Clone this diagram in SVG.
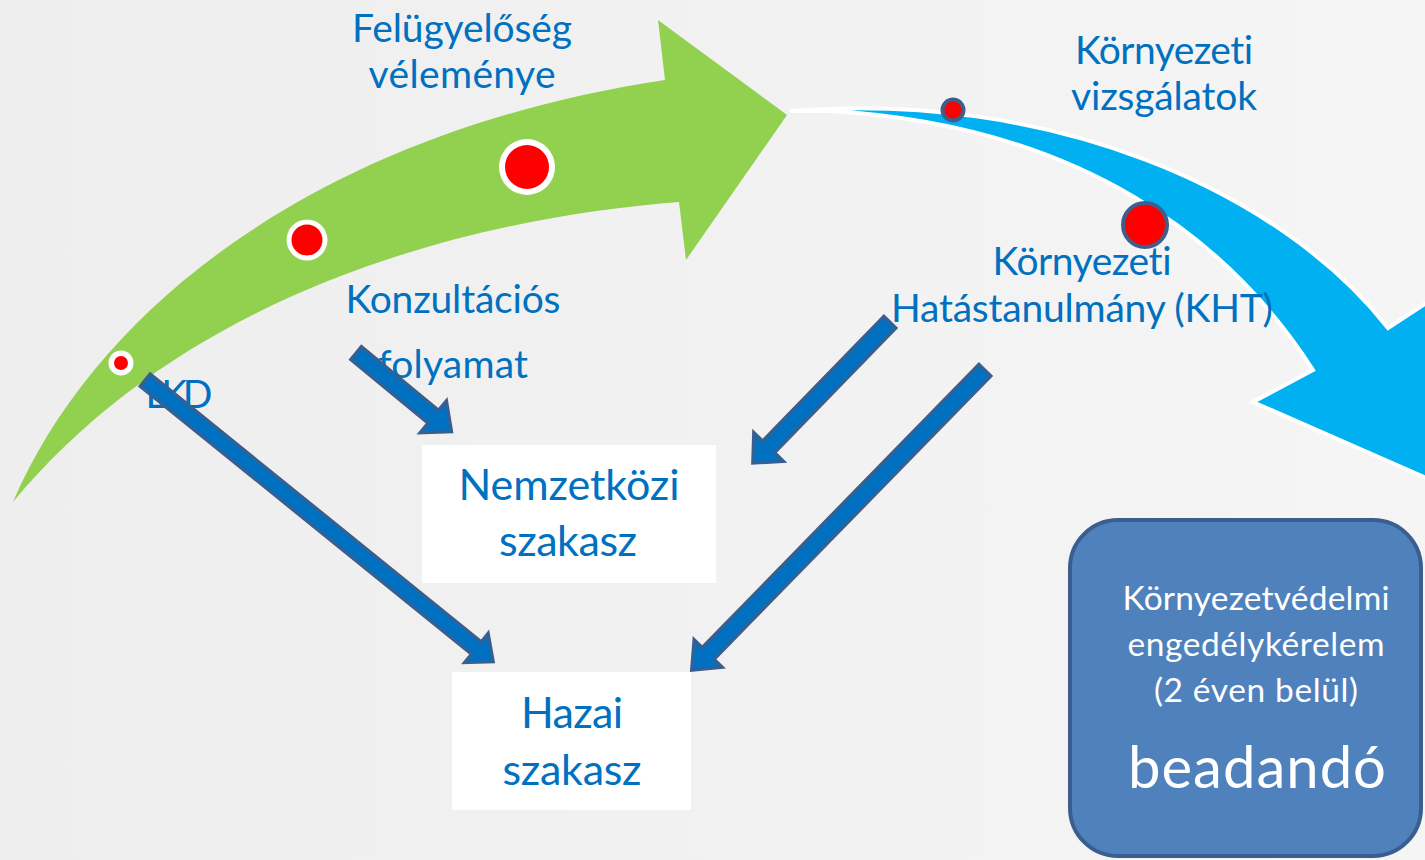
<svg xmlns="http://www.w3.org/2000/svg" width="1425" height="860" viewBox="0 0 1425 860">
  <defs>
    <linearGradient id="bg" x1="0" y1="0" x2="1" y2="0">
      <stop offset="0" stop-color="#EEEEEE"/>
      <stop offset="1" stop-color="#F5F5F5"/>
    </linearGradient>
    <style>
      text { font-variant-ligatures: none; font-feature-settings: "liga" 0; }
      .lbl { font-family: Lato, "Open Sans", "Liberation Sans", sans-serif; fill: #0070C0; text-anchor: middle; }
      .s42 { font-size: 39px; }
      .s46 { font-size: 43px; }
      .wt { font-family: Lato, "Open Sans", "Liberation Sans", sans-serif; fill: #FFFFFF; text-anchor: middle; }
      .blk { fill: #0070C0; stroke: #3A5F8E; stroke-width: 3; stroke-linejoin: miter; }
      .dotw { fill: #FFFFFF; }
      .dotr { fill: #FF0000; }
      .dotb { fill: #FF0000; stroke: #3F5E8C; stroke-width: 4; }
      .box { fill: #FFFFFF; }
    </style>
  </defs>

  <rect x="0" y="0" width="1425" height="860" fill="url(#bg)"/>

  <g id="green-arrow">
    <path d="M13,502 C100,300 330,130 665,80 L658,20 L787,115 L686,260 L679,202 C450,220 180,300 13,502 Z" fill="#92D050"/>
    <circle class="dotw" cx="121" cy="363" r="12.5"/>
    <circle class="dotr" cx="121" cy="363" r="7"/>
    <circle class="dotw" cx="307" cy="240" r="20.5"/>
    <circle class="dotr" cx="307" cy="240" r="15.5"/>
    <circle class="dotw" cx="527" cy="167" r="28"/>
    <circle class="dotr" cx="527" cy="167" r="22"/>
  </g>

  <g id="blue-arrow">
    <path d="M790,111 C1050,90 1280,190 1388,328 L1440,294 L1440,484 L1253,402 L1313,370 C1230,240 1080,125 830,111 Z" fill="#00B0F0" stroke="#FFFFFF" stroke-width="4" stroke-linejoin="miter"/>
    <circle class="dotb" cx="953" cy="110" r="10.5"/>
    <circle class="dotb" cx="1145" cy="225" r="22"/>
  </g>

  <g id="labels">
    <text class="lbl s42" x="462" y="42" textLength="220" lengthAdjust="spacing">Felügyelőség</text>
    <text class="lbl s42" x="462" y="88" textLength="187" lengthAdjust="spacing">véleménye</text>
    <text class="lbl s42" x="1164" y="64" textLength="178" lengthAdjust="spacing">Környezeti</text>
    <text class="lbl s42" x="1164" y="110" textLength="186" lengthAdjust="spacing">vizsgálatok</text>
    <text class="lbl s42" x="453" y="313" textLength="215" lengthAdjust="spacing">Konzultációs</text>
    <text class="lbl s42" x="453" y="378" textLength="150" lengthAdjust="spacing">folyamat</text>
    <text class="lbl s42" x="179" y="408" textLength="67" lengthAdjust="spacing">LKD</text>
    <text class="lbl s42" x="1082" y="275" textLength="179" lengthAdjust="spacing">Környezeti</text>
    <text class="lbl s42" x="1082" y="322" textLength="382" lengthAdjust="spacing">Hatástanulmány (KHT)</text>
  </g>

  <g id="node-nemzetkozi">
    <rect class="box" x="422" y="445" width="294" height="138"/>
    <text class="lbl s46" x="569" y="500" textLength="221" lengthAdjust="spacing">Nemzetközi</text>
    <text class="lbl s46" x="568" y="556" textLength="138" lengthAdjust="spacing">szakasz</text>
  </g>

  <g id="node-hazai">
    <rect class="box" x="452" y="672" width="239" height="138"/>
    <text class="lbl s46" x="572" y="728" textLength="102" lengthAdjust="spacing">Hazai</text>
    <text class="lbl s46" x="572" y="785" textLength="139" lengthAdjust="spacing">szakasz</text>
  </g>

  <g id="connectors">
    <g transform="translate(145,380) rotate(38.96)">
      <path class="blk" d="M0,-8 L426,-8 L426,-19 L448,0 L426,19 L426,8 L0,8 Z"/>
    </g>
    <g transform="translate(356,353) rotate(39.5)">
      <path class="blk" d="M0,-8.5 L100,-8.5 L100,-21 L124,0 L100,21 L100,8.5 L0,8.5 Z"/>
    </g>
    <g transform="translate(890,322) rotate(134.2)">
      <path class="blk" d="M0,-8.5 L174,-8.5 L174,-21 L197,0 L174,21 L174,8.5 L0,8.5 Z"/>
    </g>
    <g transform="translate(985,370) rotate(134.33)">
      <path class="blk" d="M0,-8.5 L396,-8.5 L396,-20 L420,0 L396,20 L396,8.5 L0,8.5 Z"/>
    </g>
  </g>

  <g id="node-engedely">
    <rect x="1070" y="520" width="351" height="336" rx="48" ry="48" fill="#4F81BD" stroke="#3A5F8E" stroke-width="4"/>
    <text class="wt" x="1256" y="610" font-size="33.5" textLength="267" lengthAdjust="spacing">Környezetvédelmi</text>
    <text class="wt" x="1256" y="656" font-size="33.5" textLength="257" lengthAdjust="spacing">engedélykérelem</text>
    <text class="wt" x="1256" y="702" font-size="33.5" textLength="204" lengthAdjust="spacing">(2 éven belül)</text>
    <text class="wt" x="1257" y="788" font-size="58" textLength="258" lengthAdjust="spacing">beadandó</text>
  </g>
</svg>
